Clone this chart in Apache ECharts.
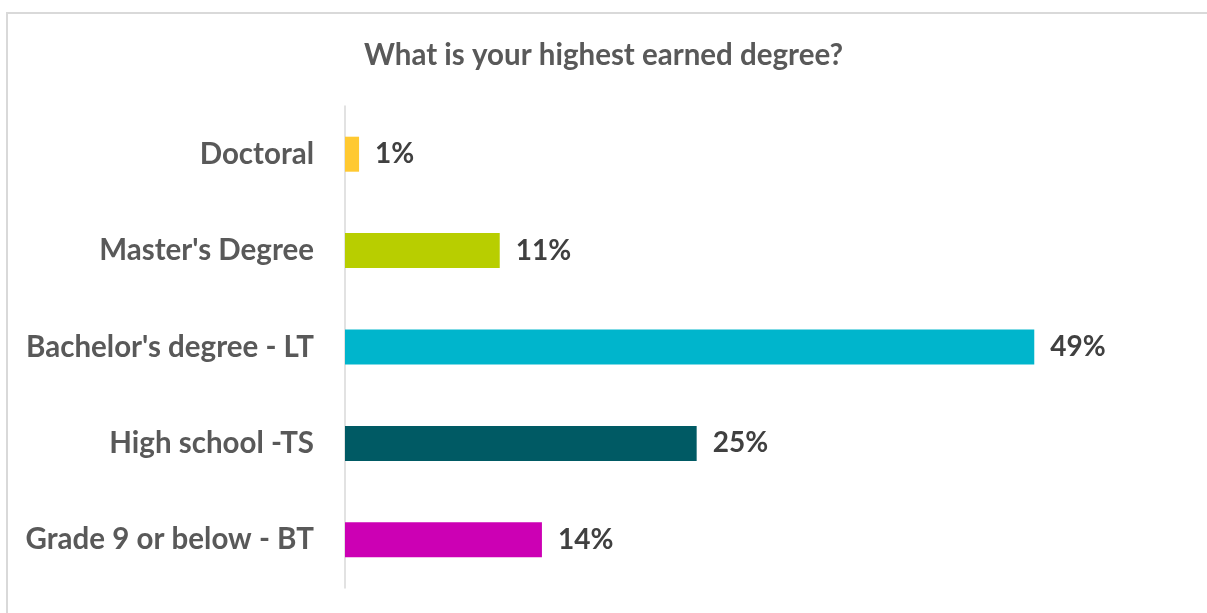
<!DOCTYPE html>
<html>
<head>
<meta charset="utf-8">
<script src="https://cdn.jsdelivr.net/npm/echarts@6/dist/echarts.min.js"></script>
<style>
html,body{margin:0;padding:0;background:#fff;}
#c{width:1207px;height:613px;}
</style>
</head>
<body>
<div id="c"></div>
<script>
const categories = ["Doctoral", "Master's Degree", "Bachelor's degree - LT", "High school -TS", "Grade 9 or below - BT"];
const values = [1, 11, 49, 25, 14];
const colors = ["#FFC931", "#B8CE00", "#00B5CC", "#005A64", "#CC00B4"];
const titleText = "What is your highest earned degree?";

const chart = echarts.init(document.getElementById('c'));
chart.setOption({
  animation: false,
  backgroundColor: '#fff',
  graphic: [{
    type: 'rect',
    shape: { x: 7, y: 13, width: 1400, height: 800 },
    style: { fill: 'none', stroke: '#D9D9D9', lineWidth: 2 },
    silent: true
  }],
  title: {
    text: titleText,
    left: 'center',
    top: 35,
    textStyle: { fontFamily: 'Lato', fontWeight: 'bold', fontSize: 29.5, color: '#595959' }
  },
  grid: { left: 345, right: 18, top: 106, bottom: 25, containLabel: false },
  xAxis: {
    type: 'value', min: 0, max: 60,
    show: false
  },
  yAxis: {
    type: 'category',
    data: categories,
    inverse: true,
    axisLine: { show: true, lineStyle: { color: '#D9D9D9', width: 1.5 } },
    axisTick: { show: false },
    axisLabel: { margin: 31, fontFamily: 'Lato', fontWeight: 'bold', fontSize: 29.5, color: '#595959' }
  },
  series: [{
    type: 'bar',
    barWidth: 35,
    data: values.map((v, i) => ({ value: v, itemStyle: { color: colors[i] } })),
    label: {
      show: true, position: 'right', distance: 16,
      formatter: '{c}%',
      fontFamily: 'Lato', fontWeight: 'bold', fontSize: 28, color: '#404040'
    }
  }]
});
</script>
</body>
</html>
